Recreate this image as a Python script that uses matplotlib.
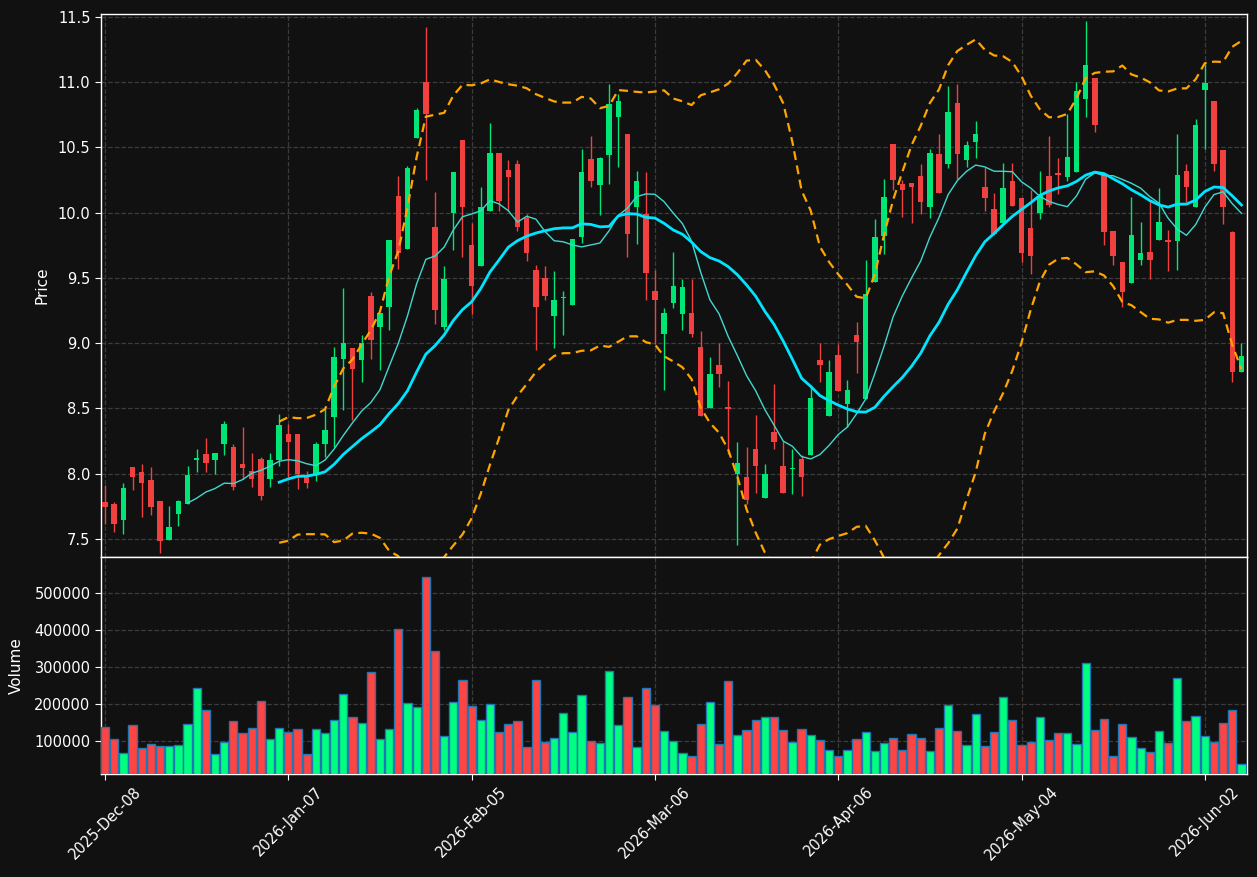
import numpy as np
import pandas as pd
import matplotlib
matplotlib.use("Agg")
import matplotlib.pyplot as plt
from matplotlib.ticker import FixedLocator, FuncFormatter

# ---------------- data ----------------
opens = [7.78, 7.77, 7.64, 8.05, 8.01, 7.95, 7.79, 7.49, 7.69, 7.77,
         8.10, 8.15, 8.10, 8.23, 8.20, 8.07, 8.02, 8.11, 7.96, 8.10,
         8.30, 8.30, 7.99, 7.99, 8.23, 8.43, 8.88, 8.96, 8.87, 9.36,
         9.12, 9.28, 10.13, 9.72, 10.57, 11.00, 9.89, 9.12, 10.00, 10.56,
         9.75, 9.59, 10.01, 10.46, 10.33, 10.37, 9.96, 9.56, 9.50, 9.21,
         9.345, 9.29, 9.81, 10.41, 10.21, 10.44, 10.73, 10.60, 10.04, 9.99,
         9.40, 9.07, 9.31, 9.22, 9.23, 8.97, 8.50, 8.83, 8.505, 8.00,
         7.97, 8.19, 7.81, 8.32, 8.06, 8.031, 8.11, 8.14, 8.87, 8.44,
         8.91, 8.53, 9.06, 8.57, 9.47, 9.82, 10.53, 10.22, 10.23, 10.28,
         10.04, 10.45, 10.37, 10.84, 10.40, 10.54, 10.20, 10.03, 9.92, 10.24,
         10.11, 9.88, 10.00, 10.28, 10.30, 10.27, 10.31, 10.87, 11.03, 10.30,
         9.86, 9.62, 9.46, 9.64, 9.70, 9.79, 9.787, 9.78, 10.32, 10.04,
         10.94, 10.86, 10.48, 9.85, 8.78]
highs = [7.91, 7.78, 7.93, 8.05, 8.07, 8.05, 7.79, 7.75, 7.80, 8.06,
         8.19, 8.27, 8.16, 8.40, 8.23, 8.36, 8.16, 8.13, 8.16, 8.46,
         8.38, 8.30, 8.02, 8.24, 8.50, 8.97, 9.42, 8.96, 9.06, 9.39,
         9.23, 9.79, 10.28, 10.36, 10.80, 11.42, 10.16, 9.59, 10.31, 10.56,
         9.92, 10.20, 10.69, 10.46, 10.40, 10.40, 9.99, 9.60, 9.59, 9.55,
         9.40, 9.80, 10.49, 10.59, 10.43, 10.99, 10.91, 10.60, 10.32, 10.31,
         9.56, 9.27, 9.70, 9.49, 9.49, 9.09, 8.89, 9.00, 8.71, 8.24,
         8.20, 8.45, 8.07, 8.69, 8.25, 8.19, 8.14, 8.67, 9.00, 8.87,
         8.99, 8.72, 9.16, 9.64, 9.95, 10.26, 10.53, 10.25, 10.23, 10.37,
         10.49, 10.60, 10.97, 10.99, 10.55, 10.70, 10.35, 10.15, 10.38, 10.38,
         10.11, 10.17, 10.32, 10.59, 10.42, 10.76, 11.00, 11.47, 11.03, 10.30,
         9.86, 9.62, 10.12, 9.93, 10.09, 10.19, 9.87, 10.60, 10.37, 10.72,
         11.14, 10.86, 10.48, 9.86, 9.00]
lows = [7.61, 7.55, 7.54, 7.87, 7.67, 7.68, 7.39, 7.49, 7.60, 7.77,
        8.01, 8.01, 8.00, 8.14, 7.87, 7.96, 7.90, 7.80, 7.90, 8.06,
        7.97, 7.88, 7.89, 7.94, 8.13, 8.20, 8.49, 8.41, 8.70, 8.88,
        8.79, 9.10, 9.57, 9.72, 10.57, 10.25, 9.15, 9.10, 9.71, 9.66,
        9.22, 9.59, 10.01, 10.01, 10.01, 9.86, 9.63, 8.95, 9.33, 8.96,
        9.06, 9.29, 9.77, 10.20, 9.98, 10.22, 10.35, 9.66, 9.76, 9.33,
        8.99, 8.64, 9.27, 9.10, 9.05, 8.44, 8.50, 8.66, 8.15, 7.45,
        7.77, 7.85, 7.81, 8.19, 7.85, 7.84, 7.83, 8.14, 8.70, 8.44,
        8.63, 8.36, 8.77, 8.57, 9.47, 9.68, 10.17, 9.97, 9.92, 9.99,
        9.96, 10.15, 10.34, 10.26, 10.35, 10.42, 10.01, 9.83, 9.92, 10.05,
        9.62, 9.53, 9.95, 10.04, 10.14, 10.24, 10.31, 10.73, 10.62, 9.75,
        9.60, 9.28, 9.46, 9.60, 9.49, 9.79, 9.55, 9.56, 10.08, 10.04,
        10.49, 10.32, 9.91, 8.70, 8.78]
closes = [7.74, 7.61, 7.89, 7.97, 7.93, 7.74, 7.48, 7.59, 7.79, 7.99,
          8.12, 8.08, 8.16, 8.38, 7.90, 8.04, 7.96, 7.83, 8.10, 8.37,
          8.24, 8.00, 7.93, 8.23, 8.33, 8.89, 9.00, 8.80, 9.00, 9.02,
          9.23, 9.79, 9.69, 10.34, 10.79, 10.76, 9.25, 9.49, 10.31, 10.04,
          9.44, 10.04, 10.46, 10.09, 10.27, 9.89, 9.69, 9.28, 9.36, 9.33,
          9.355, 9.80, 10.31, 10.24, 10.42, 10.83, 10.86, 9.84, 10.24, 9.54,
          9.33, 9.23, 9.44, 9.43, 9.07, 8.44, 8.76, 8.76, 8.495, 8.08,
          7.80, 8.06, 8.00, 8.24, 7.85, 8.044, 7.97, 8.58, 8.83, 8.78,
          8.63, 8.64, 9.01, 9.38, 9.81, 10.12, 10.25, 10.17, 10.20, 10.08,
          10.46, 10.15, 10.77, 10.45, 10.52, 10.60, 10.11, 9.84, 10.19, 10.05,
          9.69, 9.67, 10.13, 10.06, 10.29, 10.43, 10.93, 11.13, 10.67, 9.85,
          9.67, 9.39, 9.83, 9.69, 9.64, 9.93, 9.774, 10.29, 10.20, 10.67,
          10.995, 10.37, 10.04, 8.78, 8.90]
volumes = [137800, 105400, 67600, 143200, 81100, 91900, 86500, 86500, 89200, 145900,
           243200, 183800, 64900, 98200, 154100, 121600, 135100, 208100, 105400, 135100,
           124300, 132400, 64900, 132400, 121600, 156800, 227000, 164900, 148600, 286500,
           105400, 132400, 402700, 202700, 191900, 543200, 343200, 113500, 205400, 264900,
           194600, 156800, 200000, 124300, 145900, 154100, 83800, 264900, 97300, 108100,
           175700, 124300, 224300, 100000, 94600, 289200, 143200, 218900, 83800, 243200,
           197300, 127000, 100000, 67600, 59500, 145900, 205400, 91900, 262200, 116200,
           129700, 156800, 164900, 164900, 129700, 97300, 132400, 116200, 102700, 75700,
           59500, 75700, 105400, 124300, 73000, 94600, 108100, 75700, 118900, 108100,
           73000, 135100, 197300, 127000, 89200, 173000, 86500, 124300, 218900, 156800,
           89200, 97300, 164900, 102700, 121600, 121600, 91900, 310800, 129700, 159500,
           59500, 145900, 110800, 81100, 70300, 127000, 94600, 270300, 154100, 167600,
           113500, 97300, 148600, 183800, 37800]
tick_labels = ["2025-Dec-08", "2026-Jan-07", "2026-Feb-05", "2026-Mar-06",
               "2026-Apr-06", "2026-May-04", "2026-Jun-02"]
tick_step = 20

# ---------------- styling ----------------
BG = "#111111"
UP = "#00e676"
DOWN = "#f04040"
VUP = "#00ff80"
VDOWN = "#ff4444"
GRID = "#3c3c3c"

o = np.array(opens); h = np.array(highs); l = np.array(lows); c = np.array(closes)
v = np.array(volumes)
n = len(c)
x = np.arange(n)
up = c >= o

s = pd.Series(c)
ma10 = s.rolling(10).mean()
ma20 = s.rolling(20).mean()
sd20 = s.rolling(20).std(ddof=0)
bb_up = ma20 + 2 * sd20
bb_lo = ma20 - 2 * sd20

fig = plt.figure(figsize=(12.57, 8.77), dpi=100, facecolor=BG)
ax = fig.add_axes([0.0803, 0.3649, 0.992 - 0.0803, 0.984 - 0.3649])
axv = fig.add_axes([0.0803, 0.1174, 0.992 - 0.0803, 0.3649 - 0.1174], sharex=ax)

for a in (ax, axv):
    a.set_facecolor(BG)
    for sp in a.spines.values():
        sp.set_color("white")
        sp.set_linewidth(1.0)
    a.tick_params(colors="white", labelsize=10.5, length=4)
    a.grid(True, color=GRID, linestyle="--", linewidth=0.9)
    a.set_axisbelow(True)

# candles
col = np.where(up, UP, DOWN)
body_lo = np.minimum(o, c)
body_h = np.maximum(np.abs(c - o), 0.012)
ax.vlines(x, l, h, colors=col, linewidth=1.0, zorder=2)
ax.bar(x, body_h, bottom=body_lo, width=0.6, color=col, linewidth=0, zorder=3)

# indicators
ax.plot(x, bb_up, color="#ffa500", linestyle=(0, (4, 2.5)), linewidth=1.6, zorder=4)
ax.plot(x, bb_lo, color="#ffa500", linestyle=(0, (4, 2.5)), linewidth=1.6, zorder=4)
ax.plot(x, ma10, color="#40d8d0", linewidth=1.0, zorder=4)
ax.plot(x, ma20, color="#00e5ff", linewidth=2.0, zorder=4)

ax.set_ylim(7.36, 11.523)
ax.yaxis.set_major_locator(FixedLocator(np.arange(7.5, 11.51, 0.5)))
ax.set_ylabel("Price", color="white", fontsize=11)
plt.setp(ax.get_xticklabels(), visible=False)
ax.tick_params(axis="x", length=0)

# volume
vcol = np.where(up, VUP, VDOWN)
axv.bar(x, v, width=0.9, color=vcol, edgecolor="#1f77b4", linewidth=1.0, zorder=3)
axv.set_ylim(0.3 * v.min(), 1.1 * v.max())
axv.yaxis.set_major_locator(FixedLocator([100000, 200000, 300000, 400000, 500000]))
axv.yaxis.set_major_formatter(FuncFormatter(lambda val, pos: f"{int(val)}"))
axv.set_ylabel("Volume", color="white", fontsize=11)

ticks = list(range(0, n, tick_step))[:len(tick_labels)]
axv.set_xticks(ticks)
axv.set_xticklabels(tick_labels, rotation=45, fontsize=10.5, color="white")
axv.set_xlim(-0.45, n - 1 + 0.6)

ax.yaxis.set_label_coords(-0.0445, 0.5)
axv.yaxis.set_label_coords(-0.067, 0.5)

fig.savefig("out.png", dpi=100, facecolor=BG)
